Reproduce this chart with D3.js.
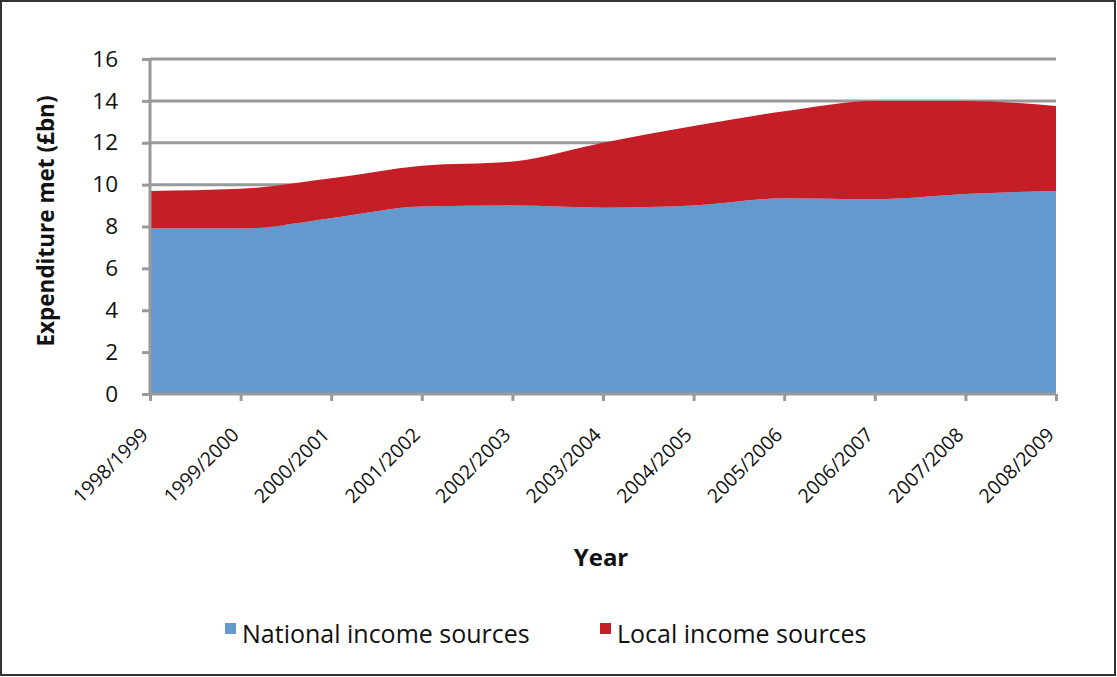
<!DOCTYPE html>
<html>
<head>
<meta charset="utf-8">
<script src="https://cdn.jsdelivr.net/npm/d3@7"></script>
<style>
  body { margin: 0; background: #fff; }
  svg { display: block; font-family: "Open Sans", "Noto Sans", sans-serif; }
</style>
</head>
<body>
<svg id="chart" width="1117" height="677"></svg>
<script>
// Data
var years = ["1998/1999", "1999/2000", "2000/2001", "2001/2002", "2002/2003", "2003/2004",
             "2004/2005", "2005/2006", "2006/2007", "2007/2008", "2008/2009"];
var national = [7.9, 7.9, 8.4, 8.95, 9.0, 8.9, 9.0, 9.35, 9.3, 9.55, 9.7];
var local = [1.8, 1.9, 1.9, 1.95, 2.1, 3.1, 3.8, 4.15, 4.7, 4.45, 4.05];
var yTicks = [0, 2, 4, 6, 8, 10, 12, 14, 16];
var seriesNames = ["National income sources", "Local income sources"];
var colors = ["#6399ce", "#c41f26"];

var margin = { top: 59, right: 61, bottom: 283, left: 150 },
    width = 1117 - margin.left - margin.right,
    height = 677 - margin.top - margin.bottom;

var svg = d3.select("#chart");

// Outer frame
svg.append("rect")
    .attr("x", 1).attr("y", 1)
    .attr("width", 1114).attr("height", 674)
    .attr("fill", "none")
    .attr("stroke", "#333")
    .attr("stroke-width", 2);

var chart = svg.append("g")
    .attr("transform", "translate(" + margin.left + "," + margin.top + ")");

var x = d3.scalePoint().domain(years).range([0, width]);
var y = d3.scaleLinear().domain([0, 16]).range([height, 0]);

var table = years.map(function (yr, i) {
    return { year: yr, national: national[i], local: local[i] };
});
var stacked = d3.stack().keys(["national", "local"])(table);

// Gridlines
chart.append("g")
    .selectAll("line")
    .data(yTicks.filter(function (d) { return d > 0; }))
    .enter().append("line")
    .attr("x1", 0).attr("x2", width)
    .attr("y1", function (d) { return y(d); })
    .attr("y2", function (d) { return y(d); })
    .attr("stroke", "#999")
    .attr("stroke-width", 3);

var area = d3.area()
    .x(function (d) { return x(d.data.year); })
    .y0(function (d) { return y(d[0]); })
    .y1(function (d) { return y(d[1]); })
    .curve(d3.curveMonotoneX);

chart.selectAll(".layer")
    .data(stacked)
    .enter().append("path")
    .attr("class", "layer")
    .attr("d", area)
    .attr("fill", function (d, i) { return colors[i]; });

// Y axis
var yAxis = d3.axisLeft(y).tickValues(yTicks).tickSize(8).tickPadding(24);
var gy = chart.append("g").call(yAxis).attr("font-family", null);
gy.select(".domain").attr("stroke", "#999").attr("stroke-width", 3).attr("d", "M0," + height + "V0");
gy.selectAll(".tick line").attr("stroke", "#999").attr("stroke-width", 3);
gy.selectAll("text").attr("font-size", 22.5).attr("fill", "#111");

// X axis
var xAxis = d3.axisBottom(x).tickSize(7);
var gx = chart.append("g")
    .attr("transform", "translate(0," + height + ")")
    .call(xAxis)
    .attr("font-family", null);
gx.select(".domain").attr("stroke", "#999").attr("stroke-width", 3).attr("d", "M0,0H" + width);
gx.selectAll(".tick line").attr("stroke", "#999").attr("stroke-width", 3);
gx.selectAll("text")
    .attr("font-size", 19.5)
    .attr("fill", "#111")
    .attr("text-anchor", "end")
    .attr("x", 0).attr("y", 0).attr("dy", 0)
    .attr("transform", "translate(-1,42) rotate(-45)");

// Axis titles
svg.append("text")
    .attr("transform", "translate(54,221) rotate(-90)")
    .attr("text-anchor", "middle")
    .attr("font-size", 22.5)
    .attr("font-weight", "bold")
    .attr("fill", "#111")
    .text("Expenditure met (£bn)");

svg.append("text")
    .attr("x", 601).attr("y", 566)
    .attr("text-anchor", "middle")
    .attr("font-size", 24)
    .attr("font-weight", "bold")
    .attr("fill", "#111")
    .text("Year");

// Legend
var legendX = [225, 600];
var legend = svg.selectAll(".legend")
    .data(seriesNames)
    .enter().append("g")
    .attr("class", "legend")
    .attr("transform", function (d, i) { return "translate(" + legendX[i] + ",634)"; });
legend.append("rect")
    .attr("x", 0).attr("y", -11)
    .attr("width", 11).attr("height", 11)
    .attr("fill", function (d, i) { return colors[i]; });
legend.append("text")
    .attr("x", 17).attr("y", 9)
    .attr("font-size", 25)
    .attr("fill", "#111")
    .text(function (d) { return d; });
</script>
</body>
</html>
